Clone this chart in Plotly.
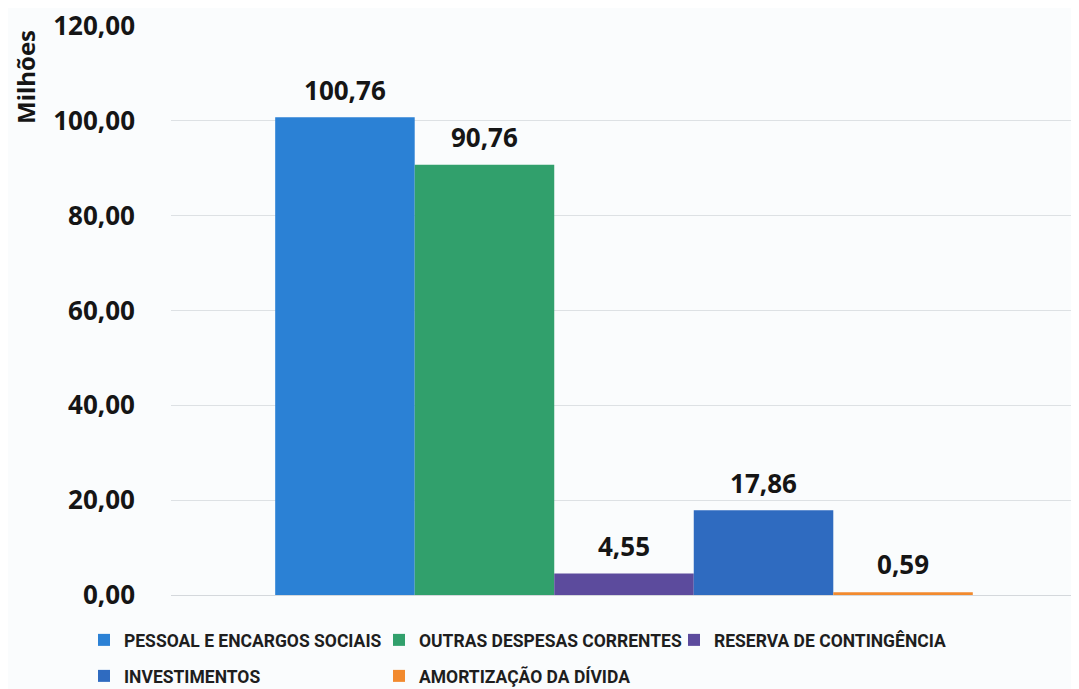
import plotly.graph_objects as go

categories = ["Despesas"]
series_names = [
    "PESSOAL E ENCARGOS SOCIAIS",
    "OUTRAS DESPESAS CORRENTES",
    "RESERVA DE CONTINGÊNCIA",
    "INVESTIMENTOS",
    "AMORTIZAÇÃO DA DÍVIDA",
]
series_values = [100.76, 90.76, 4.55, 17.86, 0.59]
series_colors = ["#2b81d5", "#31a06c", "#5c4b9d", "#2f6bc0", "#f28a2e"]
series_legend = ["legend", "legend", "legend", "legend2", "legend2"]
tick_values = [0, 20, 40, 60, 80, 100, 120]

# page has an 8px body margin: figure is sized to fill the rest of the window
W, H = 1071, 681
L, R, T, B = 163, 2, 18, 94
PW, PH = W - L - R, H - T - B


def px_x(sx):  # screen x -> paper x
    return (sx - 8 - L) / PW


def px_y(sy):  # screen y -> paper y
    return (H - B - (sy - 8)) / PH


fig = go.Figure()
for name, val, col, leg in zip(series_names, series_values, series_colors, series_legend):
    fig.add_trace(go.Bar(
        x=categories, y=[val], name=name,
        marker=dict(color=col, line=dict(width=0)),
        text=[val],
        texttemplate="<span style='font-size:26px'>%{y:,.2f}</span><br>&nbsp;",
        textposition="outside", constraintext="none",
        textfont=dict(family="Open Sans", size=9, color="#151515", weight="bold"),
        cliponaxis=False, legend=leg,
    ))

legend_font = dict(family="Roboto", size=17.5, color="#1e1e1e", weight="bold")

fig.update_layout(
    width=W, height=H,
    separators=",.",
    barmode="group", bargap=0.23, bargroupgap=0,
    paper_bgcolor="#fafcfd", plot_bgcolor="#fafcfd",
    margin=dict(l=L, r=R, t=T, b=B, autoexpand=False),
    xaxis=dict(showticklabels=False, showgrid=False, zeroline=False,
               showline=True, linecolor="#d4d8dc", linewidth=1),
    yaxis=dict(range=[0, 120], tickvals=tick_values, tickformat=",.2f",
               showgrid=True, gridcolor="#dde1e4", gridwidth=1, zeroline=False,
               tickfont=dict(family="Open Sans", size=26, color="#151515", weight="bold"),
               ticks="", ticklabelstandoff=35, ticklabeloverflow="allow"),
    legend=dict(orientation="h", x=px_x(84), xanchor="left", y=px_y(640), yanchor="middle",
                entrywidth=250, entrywidthmode="pixels", font=legend_font,
                bgcolor="rgba(0,0,0,0)", itemclick=False),
    legend2=dict(orientation="h", x=px_x(84), xanchor="left", y=px_y(676), yanchor="middle",
                 entrywidth=250, entrywidthmode="pixels", font=legend_font,
                 bgcolor="rgba(0,0,0,0)", itemclick=False),
    showlegend=True,
    annotations=[dict(text="Milhões", x=px_x(25), xref="paper", xanchor="center",
                      y=px_y(77), yref="paper", yanchor="middle", textangle=-90,
                      showarrow=False,
                      font=dict(family="Open Sans", size=24, color="#151515", weight="bold"))],
)

fig.write_html("out.html")
